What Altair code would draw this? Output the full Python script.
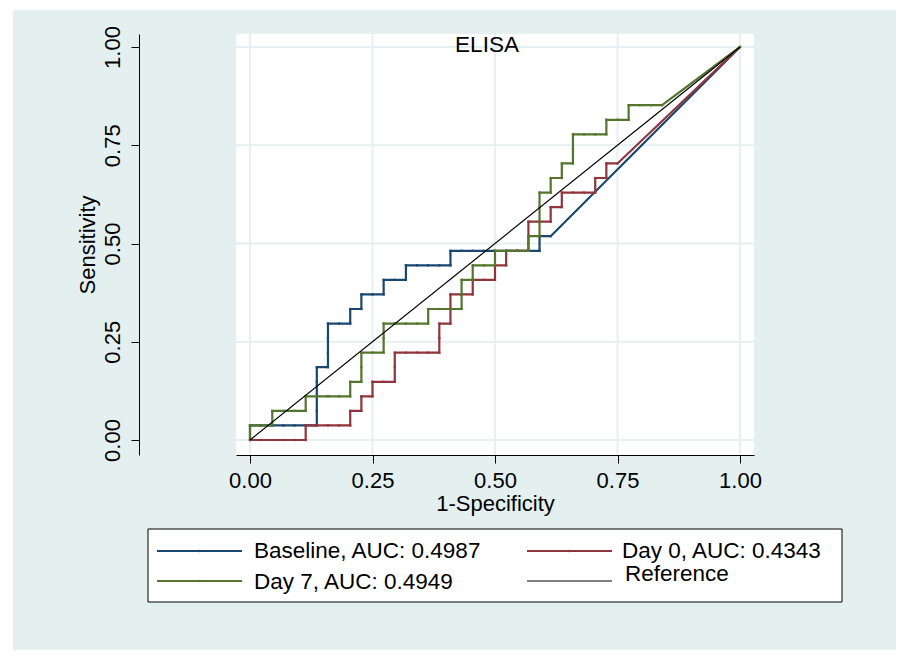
import altair as alt
import pandas as pd

# ---------------- data ----------------
N_NEG = 44   # negatives (x steps of 1/44)
N_POS = 27   # positives (y steps of 1/27)

series_names = ["Baseline, AUC: 0.4987", "Day 0, AUC: 0.4343", "Day 7, AUC: 0.4949"]
series_colors = ["#1A476F", "#90353B", "#55752F"]

# ROC vertices as counts (false positives, true positives)
baseline_fp = [0, 0, 6, 6, 7, 7, 9, 9, 10, 10, 12, 12, 14, 14, 18, 18, 26, 26, 27, 44]
baseline_tp = [0, 1, 1, 5, 5, 8, 8, 9, 9, 10, 10, 11, 11, 12, 12, 13, 13, 14, 14, 27]

day0_fp = [0, 5, 5, 9, 9, 10, 10, 11, 11, 13, 13, 17, 17, 18, 18, 20, 20, 22, 22, 23, 23,
           25, 25, 27, 27, 28, 28, 31, 31, 32, 32, 33, 44]
day0_tp = [0, 0, 1, 1, 2, 2, 3, 3, 4, 4, 6, 6, 8, 8, 10, 10, 11, 11, 12, 12, 13,
           13, 15, 15, 16, 16, 17, 17, 18, 18, 19, 19, 27]

day7_fp = [0, 0, 2, 2, 5, 5, 9, 9, 10, 10, 12, 12, 16, 16, 19, 19, 20, 20, 22, 22, 25,
           25, 26, 26, 27, 27, 28, 28, 29, 29, 32, 32, 34, 34, 37, 44]
day7_tp = [0, 1, 1, 2, 2, 3, 3, 4, 4, 6, 6, 8, 8, 9, 9, 11, 11, 12, 12, 13, 13,
           14, 14, 17, 17, 18, 18, 19, 19, 21, 21, 22, 22, 23, 23, 27]

tick_values = [0, 0.25, 0.5, 0.75, 1]
chart_title = "ELISA"
x_title = "1-Specificity"
y_title = "Sensitivity"
reference_label = "Reference"

# ---------------- build tables ----------------
curves = [(baseline_fp, baseline_tp), (day0_fp, day0_tp), (day7_fp, day7_tp)]


def vertices(fp, tp):
    return pd.DataFrame({"i": range(len(fp)),
                         "fpr": [f / N_NEG for f in fp],
                         "tpr": [t / N_POS for t in tp]})


def cutpoints(fp, tp):
    # each observation along an axis-aligned run is one cut-point of the ROC
    pts = [(fp[0], tp[0])]
    for k in range(1, len(fp)):
        a, b = (fp[k - 1], tp[k - 1]), (fp[k], tp[k])
        if a[0] == b[0]:
            pts += [(a[0], t) for t in range(a[1] + 1, b[1] + 1)]
        elif a[1] == b[1]:
            pts += [(f, a[1]) for f in range(a[0] + 1, b[0] + 1)]
        else:
            pts.append(b)
    return pd.DataFrame({"fpr": [p[0] / N_NEG for p in pts],
                         "tpr": [p[1] / N_POS for p in pts]})


W, H = 518, 421
FONT = "Liberation Sans"
BG = "#E4EFF0"
GRID = "#E6EFF1"

xs = alt.Scale(domain=[-14 / 490, 1 + 14 / 490], nice=False, zero=False)
ys = alt.Scale(domain=[-15 / 393, 1 + 13 / 393], nice=False, zero=False)

one = alt.Data(values=[{"a": 1}])

x_axis = alt.Axis(values=tick_values, format=".2f", title=x_title, grid=False,
                  domainColor="black", tickColor="black", tickSize=8, domainWidth=1,
                  labelFontSize=22, titleFontSize=22, labelFont=FONT, titleFont=FONT,
                  labelColor="black", titleColor="black", titleFontWeight="normal",
                  labelPadding=7, titlePadding=2, zindex=1)
y_axis = alt.Axis(values=tick_values, format=".2f", title=y_title, grid=False, orient="left",
                  offset=97, domainColor="black", tickColor="black", tickSize=8, domainWidth=1,
                  labelFontSize=22, titleFontSize=22, labelFont=FONT, titleFont=FONT,
                  labelColor="black", titleColor="black", titleFontWeight="normal",
                  labelAngle=270, labelAlign="center", labelBaseline="alphabetic",
                  labelPadding=12, titlePadding=2, zindex=1)


def X(field):
    return alt.X(field, scale=xs, axis=x_axis)


def Y(field):
    return alt.Y(field, scale=ys, axis=y_axis)


# page background and white plot region
bg = alt.Chart(one).mark_rect(color=BG).encode(
    x=alt.value(-223), x2=alt.value(660), y=alt.value(-24), y2=alt.value(616))
plot_bg = alt.Chart(one).mark_rect(color="white").encode(
    x=alt.value(0), x2=alt.value(W), y=alt.value(0), y2=alt.value(H))

ticks_df = pd.DataFrame({"v": tick_values})
vgrid = alt.Chart(ticks_df).mark_rule(color=GRID, strokeWidth=2).encode(x=X("v:Q"))
hgrid = alt.Chart(ticks_df).mark_rule(color=GRID, strokeWidth=2).encode(y=Y("v:Q"))

layers = [bg, plot_bg, vgrid, hgrid]

for (fp, tp), name, col in zip(curves, series_names, series_colors):
    line = alt.Chart(vertices(fp, tp)).mark_line(color=col, strokeWidth=2.2).encode(
        x=X("fpr:Q"), y=Y("tpr:Q"), order="i:Q")
    pts = alt.Chart(cutpoints(fp, tp)).mark_point(
        filled=True, shape="square", size=5, color=col, opacity=1).encode(
        x=X("fpr:Q"), y=Y("tpr:Q"))
    layers += [line, pts]

ref_df = pd.DataFrame({"fpr": [0, 1], "tpr": [0, 1]})
ref = alt.Chart(ref_df).mark_line(color="black", strokeWidth=1.2).encode(
    x=X("fpr:Q"), y=Y("tpr:Q"))
layers.append(ref)

title_mark = alt.Chart(one).mark_text(
    text=chart_title, font=FONT, fontSize=22.5, align="center", baseline="alphabetic",
    color="black").encode(x=alt.value(251), y=alt.value(18))
layers.append(title_mark)

# ---------------- legend ----------------
legend_box = alt.Chart(one).mark_rect(fill="white", stroke="black", strokeWidth=1).encode(
    x=alt.value(-88), x2=alt.value(606), y=alt.value(495), y2=alt.value(568))
layers.append(legend_box)

legend_labels = series_names + [reference_label]
legend_colors = series_colors + ["black"]
# (symbol x0, x1, line y, text x, text baseline y) for Baseline, Day 0, Day 7, Reference
legend_slots = [(-79, 6, 517, 18, 524),
                (291, 376, 517, 386, 524),
                (-79, 6, 547, 18, 555),
                (291, 376, 547, 389, 547)]
for k, (lab, col, slot) in enumerate(zip(legend_labels, legend_colors, legend_slots)):
    x0, x1, ly, tx, ty = slot
    layers.append(alt.Chart(one).mark_rule(
        color=col, strokeWidth=2 if k < 3 else 1.2).encode(
        x=alt.value(x0), x2=alt.value(x1), y=alt.value(ly)))
    if k < 3:
        layers.append(alt.Chart(one).mark_point(
            filled=True, shape="square", size=5, color=col, opacity=1).encode(
            x=alt.value((x0 + x1) / 2), y=alt.value(ly)))
    layers.append(alt.Chart(one).mark_text(
        text=lab, font=FONT, fontSize=22.5, align="left", baseline="alphabetic",
        color="black").encode(x=alt.value(tx), y=alt.value(ty)))

chart = alt.layer(*layers).properties(
    width=W, height=H,
    background="white",
    padding={"left": 5, "top": 2, "right": 0, "bottom": 0},
).configure_view(stroke=None)

chart.save("out.html", embed_options={"renderer": "svg", "actions": False})
